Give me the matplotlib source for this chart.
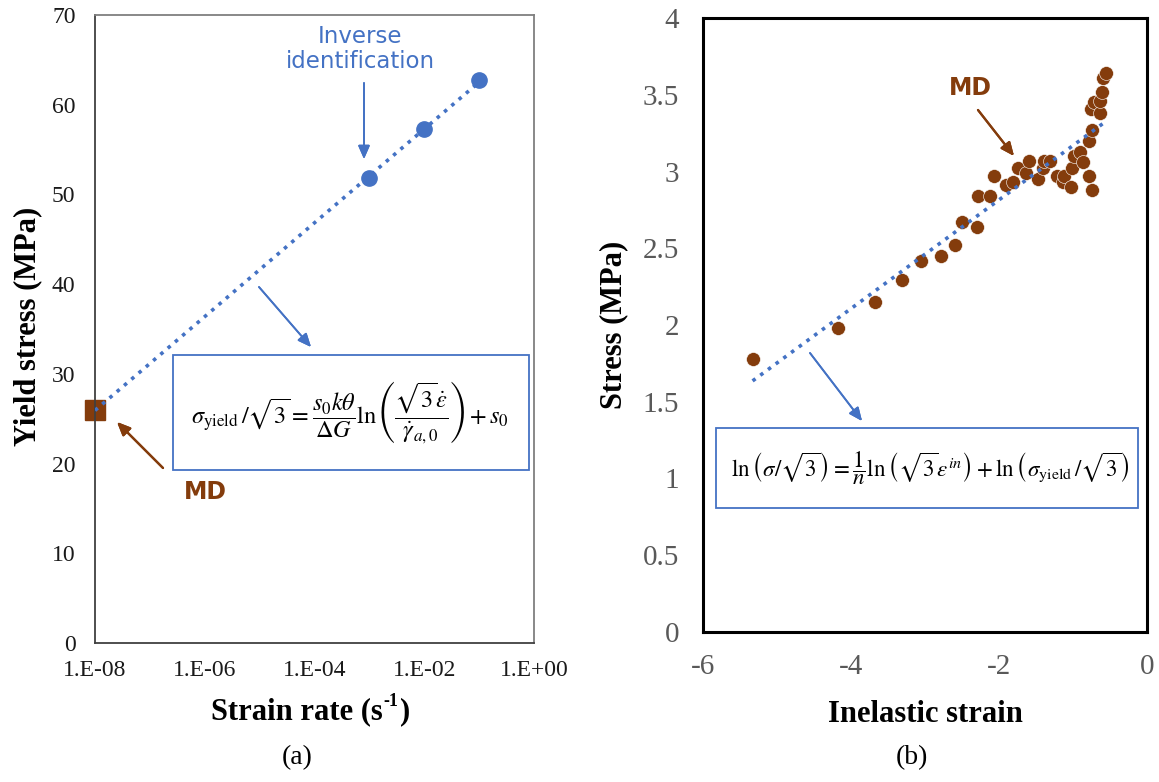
import numpy as np
import matplotlib
matplotlib.use('Agg')
import matplotlib.pyplot as plt
from matplotlib.patches import Rectangle

plt.rcParams['mathtext.fontset'] = 'stix'
plt.rcParams['axes.unicode_minus'] = False

# colores
azul = '#4472C4'
marron = '#843C0C'

# Datos panel (a): velocidad de deformación vs tensión de fluencia
rate_md = [1e-8]
yield_md = [26.0]
rate_inv = [1e-3, 1e-2, 1e-1]
yield_inv = [51.8, 57.3, 62.7]

# Datos panel (b): deformación inelástica vs tensión (MD)
strain_in = [-5.33, -4.18, -3.67, -3.31, -3.06, -2.78, -2.59, -2.50, -2.30, -2.28,
             -2.12, -2.07, -1.90, -1.81, -1.75, -1.64, -1.60, -1.47, -1.41, -1.39,
             -1.31, -1.21, -1.13, -1.12, -1.03, -1.01, -0.99, -0.91, -0.86, -0.79,
             -0.74, -0.78, -0.75, -0.76, -0.72, -0.64, -0.64, -0.61, -0.59, -0.56]
stress = [1.78, 1.98, 2.15, 2.29, 2.42, 2.45, 2.52, 2.67, 2.64, 2.84,
          2.84, 2.97, 2.91, 2.93, 3.02, 2.99, 3.07, 2.95, 3.02, 3.07,
          3.07, 2.97, 2.93, 2.97, 2.90, 3.02, 3.10, 3.13, 3.06, 2.97,
          2.88, 3.20, 3.27, 3.41, 3.45, 3.38, 3.46, 3.52, 3.61, 3.64]

W, H = 1159, 782
fig = plt.figure(figsize=(W / 100, H / 100), dpi=100)


def px(x, y):
    return (x / W, 1 - y / H)


# ---------------- Panel (a) ----------------
ax1 = fig.add_axes([95 / W, 1 - 643 / H, (534 - 95) / W, (643 - 15) / H])
ax1.set_xscale('log')
ax1.set_xlim(1e-8, 1)
ax1.set_ylim(0, 70)
ax1.set_xticks([1e-8, 1e-6, 1e-4, 1e-2, 1])
ax1.set_xticklabels(['1.E-08', '1.E-06', '1.E-04', '1.E-02', '1.E+00'])
ax1.set_yticks(range(0, 71, 10))
ax1.minorticks_off()
ax1.tick_params(length=0, labelsize=17, pad=12)
ax1.tick_params(axis='y', pad=14)
for lab in ax1.get_xticklabels() + ax1.get_yticklabels():
    lab.set_fontfamily('Liberation Serif')
    lab.set_color('#1a1a1a')
for s in ['top', 'right']:
    ax1.spines[s].set_color('#7f7f7f')
for s in ['left', 'bottom']:
    ax1.spines[s].set_color('#404040')
for s in ax1.spines.values():
    s.set_linewidth(1.3)

# línea de tendencia (ajuste lineal en log10)
lx = np.log10(rate_md + rate_inv)
ly = np.array(yield_md + yield_inv)
p1 = np.polyfit(lx, ly, 1)
xt = np.linspace(lx.min(), lx.max(), 50)
ax1.plot(10 ** xt, np.polyval(p1, xt), ':', color=azul, lw=2.6, zorder=3)
ax1.plot(rate_inv, yield_inv, 'o', color=azul, ms=11, zorder=4)
ax1.plot(rate_md, yield_md, 's', color=marron, ms=15, zorder=2, clip_on=False)

# ---------------- Panel (b) ----------------
ax2 = fig.add_axes([703 / W, 1 - 632 / H, (1147 - 703) / W, (632 - 18) / H])
ax2.set_xlim(-6, 0)
ax2.set_ylim(0, 4)
ax2.set_xticks([-6, -4, -2, 0])
ax2.set_yticks(np.arange(0, 4.01, 0.5))
ax2.set_yticklabels(['0', '0.5', '1', '1.5', '2', '2.5', '3', '3.5', '4'])
ax2.tick_params(length=0, labelsize=21, pad=16, colors='#595959')
ax2.tick_params(axis='y', pad=17)
for lab in ax2.get_xticklabels() + ax2.get_yticklabels():
    lab.set_fontfamily('Liberation Serif')
for s in ax2.spines.values():
    s.set_linewidth(2.2)
    s.set_color('black')

sx = np.array(strain_in)
sy = np.array(stress)
p2 = np.polyfit(sx, sy, 1)
xt2 = np.linspace(sx.min(), sx.max(), 50)
ax2.plot(xt2, np.polyval(p2, xt2), ':', color=azul, lw=2.6, zorder=3)
ax2.plot(sx, sy, 'o', color=marron, ms=10, mec='white', mew=0.4, zorder=2)

# ---------------- textos ----------------
serif = 'Liberation Serif'
fs_lab = 22
fig.text(*px(383, 712), 'Strain rate (s', ha='right', va='center',
         fontsize=fs_lab, fontweight='bold', family=serif)
fig.text(*px(383, 702), '-1', ha='left', va='center',
         fontsize=13, fontweight='bold', family=serif)
fig.text(*px(400, 712), ')', ha='left', va='center',
         fontsize=fs_lab, fontweight='bold', family=serif)
fig.text(*px(28, 326), 'Yield stress (MPa)', ha='center', va='center', rotation=90,
         fontsize=fs_lab, fontweight='bold', family=serif)
fig.text(*px(925, 714), 'Inelastic strain', ha='center', va='center',
         fontsize=fs_lab, fontweight='bold', family=serif)
fig.text(*px(614, 325), 'Stress (MPa)', ha='center', va='center', rotation=90,
         fontsize=fs_lab, fontweight='bold', family=serif)
fig.text(*px(297, 758), '(a)', ha='center', va='center', fontsize=20, family=serif)
fig.text(*px(912, 758), '(b)', ha='center', va='center', fontsize=20, family=serif)

fig.text(*px(360, 49), 'Inverse\nidentification', ha='center', va='center',
         fontsize=16.5, color=azul, linespacing=1.1)
fig.text(*px(205, 492), 'MD', ha='center', va='center', fontsize=17,
         fontweight='bold', color=marron)
fig.text(*px(970, 88), 'MD', ha='center', va='center', fontsize=17,
         fontweight='bold', color=marron)

# flechas
def flecha(x0, y0, x1, y1, color, lw=1.3):
    fig.add_artist(plt.annotate('', xy=px(x1, y1), xytext=px(x0, y0),
                                xycoords='figure fraction', textcoords='figure fraction',
                                arrowprops=dict(arrowstyle='-|>,head_length=0.8,head_width=0.35',
                                                color=color, lw=lw, shrinkA=0, shrinkB=0)))

flecha(364, 83, 364, 159, azul)
flecha(259, 287, 311, 347, azul)
flecha(163, 468, 117, 422, marron, 1.6)
flecha(978, 110, 1014, 156, marron, 1.6)
flecha(810, 353, 862, 421, azul)

# recuadros de ecuaciones
fig.add_artist(Rectangle(px(173, 470), (529 - 173) / W, (470 - 355) / H,
                         transform=fig.transFigure, fill=True, fc='white', ec=azul, lw=1.3))
fig.add_artist(Rectangle(px(716, 508), (1138 - 716) / W, (508 - 428) / H,
                         transform=fig.transFigure, fill=True, fc='white', ec=azul, lw=1.3))

eq1 = (r'$\sigma_{\mathrm{yield}}\,/\sqrt{3}=\dfrac{s_0 k\theta}{\Delta G}'
       r'\ln\left(\dfrac{\sqrt{3}\dot{\varepsilon}}{\dot{\gamma}_{a,0}}\right)+s_0$')
eq2 = (r'$\ln\left(\sigma/\sqrt{3}\right)=\dfrac{1}{n}\ln\left(\sqrt{3}\varepsilon^{in}\right)'
       r'+\ln\left(\sigma_{\mathrm{yield}}\,/\sqrt{3}\right)$')
fig.text(*px(350, 413), eq1, ha='center', va='center', fontsize=17.5)
fig.text(*px(930, 468), eq2, ha='center', va='center', fontsize=16.5)

fig.savefig('out.png', dpi=100)
